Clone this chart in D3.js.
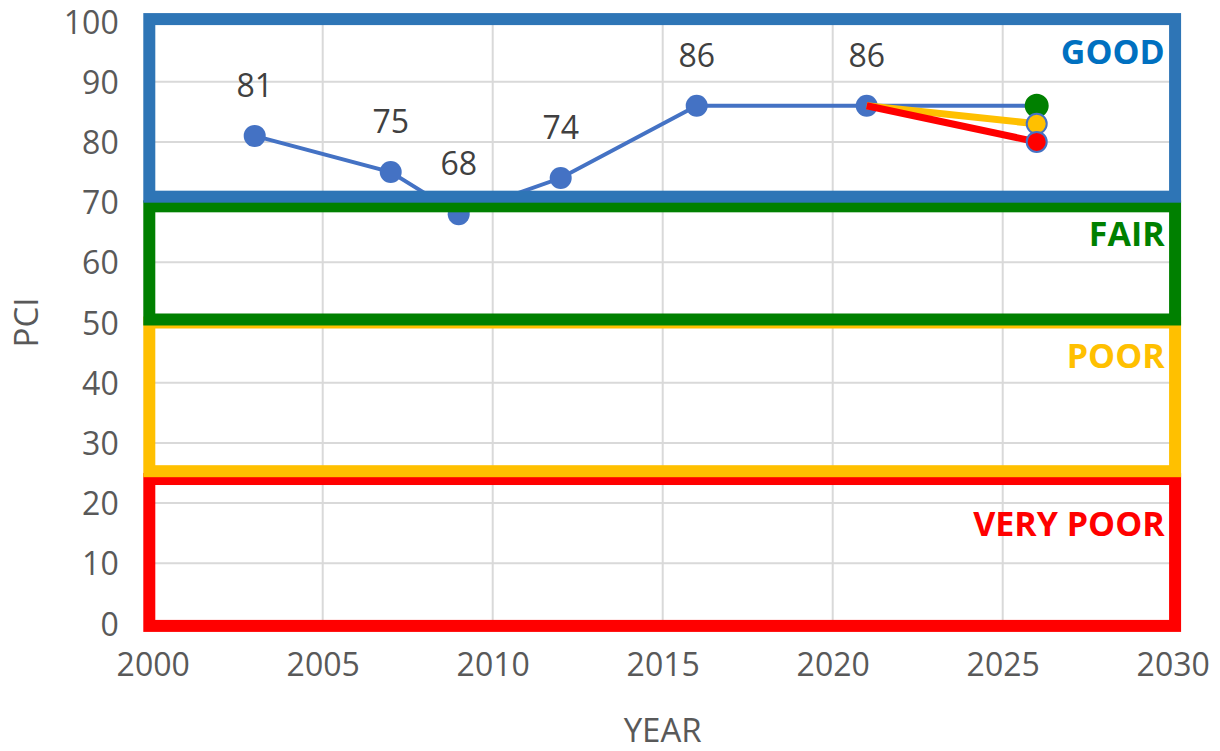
<!DOCTYPE html>
<html>
<head>
<meta charset="utf-8">
<script src="https://cdn.jsdelivr.net/npm/d3@7"></script>
<style>
	body { margin: 0; background: #fff; }
	svg { display: block; font-family: "Open Sans", sans-serif; }
</style>
</head>
<body>
<svg id="chart" width="1220" height="751"></svg>
<script>
// Measured PCI history
const years = [2003, 2007, 2009, 2012, 2016, 2021];
const pci = [81, 75, 68, 74, 86, 86];

// Projections from 2021 to 2026
const projYears = [2021, 2026];
const projNames = ['best', 'mid', 'worst'];
const projValues = [[86, 86], [86, 83], [86, 80]];
const projColors = ['#008000', '#FFC000', '#FF0000'];

// Condition bands
const bandNames = ['GOOD', 'FAIR', 'POOR', 'VERY POOR'];
const bandTop = [100.4, 69.3, 50, 24];
const bandBottom = [70.9, 50.5, 25.3, -0.4];
const bandStroke = ['#2E75B6', '#008000', '#FFC000', '#FF0000'];
const bandText = ['#0070C0', '#008000', '#FFC000', '#FF0000'];
const bandYears = [1999.9, 2030.07];

const xTicks = [2000, 2005, 2010, 2015, 2020, 2025, 2030];
const yTicks = [0, 10, 20, 30, 40, 50, 60, 70, 80, 90, 100];

let svg = d3.select('#chart');

let x = d3.scaleLinear().domain([2000, 2030]).range([152.7, 1172.7]);
let y = d3.scaleLinear().domain([0, 100]).range([623.5, 21.5]);

// gridlines
let grid = svg.append('g');
grid.selectAll('line.h')
	.data(yTicks)
	.enter()
	.append('line')
	.attr('x1', x(2000)).attr('x2', x(2030))
	.attr('y1', (d) => y(d)).attr('y2', (d) => y(d))
	.attr('stroke', '#D9D9D9').attr('stroke-width', 2);
grid.selectAll('line.v')
	.data(xTicks)
	.enter()
	.append('line')
	.attr('x1', (d) => x(d)).attr('x2', (d) => x(d))
	.attr('y1', y(0)).attr('y2', y(100))
	.attr('stroke', '#D9D9D9').attr('stroke-width', 2);

// axes (labels only)
let yAxis = svg.append('g')
	.attr('transform', `translate(${x(2000) - 34},0)`)
	.call(d3.axisLeft(y).tickValues(yTicks).tickSize(0).tickPadding(0));
let xAxis = svg.append('g')
	.attr('transform', `translate(0,${y(0) + 30})`)
	.call(d3.axisBottom(x).tickValues(xTicks).tickFormat(d3.format('d')).tickSize(0).tickPadding(0));
[xAxis, yAxis].forEach((a) => {
	a.select('.domain').remove();
	a.selectAll('text')
		.style('font-family', '"Open Sans", sans-serif')
		.style('font-size', '32px')
		.attr('fill', '#595959');
});
yAxis.selectAll('text').attr('dy', '0.36em');
xAxis.selectAll('text').attr('dy', '0.7em');

// main series
let line = d3.line().x((d) => x(d[0])).y((d) => y(d[1]));
let pts = years.map((yr, i) => [yr, pci[i]]);
svg.append('path')
	.attr('d', line(pts))
	.attr('fill', 'none')
	.attr('stroke', '#4472C4')
	.attr('stroke-width', 4);
svg.append('g').selectAll('circle')
	.data(pts)
	.enter()
	.append('circle')
	.attr('cx', (d) => x(d[0]))
	.attr('cy', (d) => y(d[1]))
	.attr('r', 11)
	.attr('fill', '#4472C4');

// projections
const projWidth = [4, 7, 7];
const projLineColor = ['#4472C4', '#FFC000', '#FF0000'];
projValues.forEach((vals, i) => {
	svg.append('path')
		.attr('d', line(projYears.map((yr, j) => [yr, vals[j]])))
		.attr('fill', 'none')
		.attr('stroke', projLineColor[i])
		.attr('stroke-width', projWidth[i]);
});
projValues.forEach((vals, i) => {
	svg.append('circle')
		.attr('cx', x(projYears[1]))
		.attr('cy', y(vals[1]))
		.attr('r', i === 0 ? 11 : 10)
		.attr('fill', projColors[i])
		.attr('stroke', i === 0 ? projColors[i] : '#4472C4')
		.attr('stroke-width', 2);
});

// condition boxes, drawn bottom band first so upper ones overlap
let boxes = svg.append('g');
d3.range(bandNames.length).reverse().forEach((i) => {
	boxes.append('rect')
		.attr('x', x(bandYears[0]))
		.attr('y', y(bandTop[i]))
		.attr('width', x(bandYears[1]) - x(bandYears[0]))
		.attr('height', y(bandBottom[i]) - y(bandTop[i]))
		.attr('fill', 'none')
		.attr('stroke', bandStroke[i])
		.attr('stroke-width', 12);
});

// band labels
const labelAt = [95, 64.7, 44.4, 16.5];
svg.append('g').selectAll('text')
	.data(bandNames)
	.enter()
	.append('text')
	.attr('x', x(2030) - 8)
	.attr('y', (d, i) => y(labelAt[i]))
	.attr('dy', '0.36em')
	.attr('text-anchor', 'end')
	.style('font-size', '34px')
	.style('font-weight', 'bold')
	.attr('fill', (d, i) => bandText[i])
	.text((d) => d);

// data labels
svg.append('g').selectAll('text')
	.data(pts)
	.enter()
	.append('text')
	.attr('x', (d) => x(d[0]))
	.attr('y', (d) => y(d[1]) - 39)
	.attr('text-anchor', 'middle')
	.style('font-size', '32px')
	.attr('fill', '#404040')
	.text((d) => d[1]);

// axis titles
svg.append('text')
	.attr('x', x(2015))
	.attr('y', 742)
	.attr('text-anchor', 'middle')
	.style('font-size', '33px')
	.attr('fill', '#595959')
	.text('YEAR');
svg.append('text')
	.attr('transform', `translate(38,${y(50)}) rotate(-90)`)
	.attr('text-anchor', 'middle')
	.style('font-size', '33px')
	.attr('fill', '#595959')
	.text('PCI');
</script>
</body>
</html>
